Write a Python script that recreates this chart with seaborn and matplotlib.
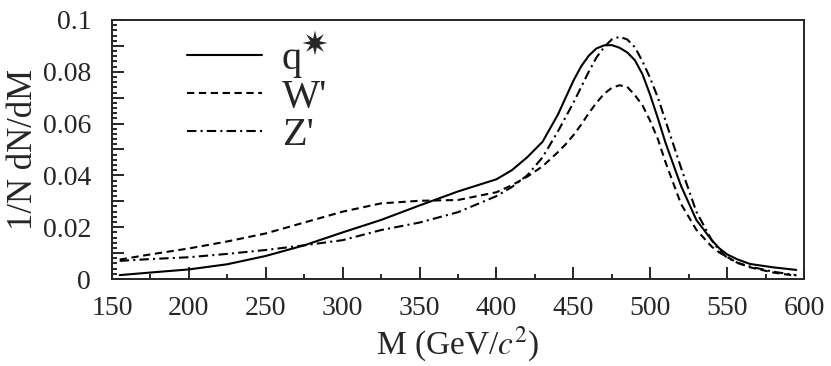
import numpy as np
import pandas as pd
import matplotlib
matplotlib.use("Agg")
import matplotlib.pyplot as plt
import seaborn as sns
from matplotlib.ticker import MultipleLocator, FuncFormatter

# mass grid (GeV/c^2) and the three normalised distributions
mass = [155, 175, 200, 225, 250, 275, 300, 325, 350, 375, 400, 410, 420, 430, 440,
        445, 450, 455, 460, 465, 470, 475, 480, 485, 490, 495, 500, 505, 510, 520,
        530, 540, 545, 550, 557, 565, 580, 595]
q_star = [0.0015, 0.0025, 0.0037, 0.0057, 0.0089, 0.013, 0.018, 0.0228, 0.0284, 0.0338,
          0.0385, 0.042, 0.047, 0.053, 0.0635, 0.070, 0.0765, 0.082, 0.0862, 0.089,
          0.0902, 0.0903, 0.0893, 0.0875, 0.0845, 0.079, 0.071, 0.062, 0.0525, 0.036,
          0.0228, 0.015, 0.0118, 0.0095, 0.0075, 0.0058, 0.0045, 0.0035]
w_prime = [0.0075, 0.0095, 0.0118, 0.0145, 0.0176, 0.0218, 0.026, 0.0292, 0.0302, 0.0305,
           0.0335, 0.0362, 0.0395, 0.0435, 0.049, 0.052, 0.0555, 0.0595, 0.064, 0.068,
           0.0715, 0.0738, 0.0748, 0.0742, 0.071, 0.067, 0.061, 0.054, 0.045, 0.029,
           0.019, 0.0125, 0.0102, 0.0085, 0.0062, 0.0045, 0.0025, 0.0012]
z_prime = [0.007, 0.0077, 0.0084, 0.0097, 0.0112, 0.013, 0.015, 0.0189, 0.0218, 0.0258,
           0.032, 0.0355, 0.040, 0.047, 0.057, 0.0625, 0.068, 0.074, 0.080, 0.0855,
           0.0895, 0.0925, 0.0935, 0.0925, 0.0895, 0.084, 0.0775, 0.070, 0.061, 0.043,
           0.026, 0.015, 0.011, 0.0082, 0.0062, 0.0048, 0.0028, 0.0015]

labels = ["q", "W'", "Z'"]
styles = ["-", (0, (3.5, 2.2)), (0, (4.5, 2, 1, 2))]

sns.set_style("ticks")
plt.rcParams["font.family"] = ["Liberation Serif", "DejaVu Serif"]
plt.rcParams["mathtext.fontset"] = "stix"

fig, ax = plt.subplots(figsize=(8.31, 3.66), dpi=100)
fig.subplots_adjust(left=0.1348, right=0.9675, bottom=0.2377, top=0.9454)

df = pd.DataFrame({"M": mass, "q": q_star, "W": w_prime, "Z": z_prime})
for col, lab, ls in zip(["q", "W", "Z"], labels, styles):
    sns.lineplot(data=df, x="M", y=col, ax=ax, color="black", lw=1.5,
                 linestyle=ls, label=lab)

ax.set_xlim(150, 600)
ax.set_ylim(0, 0.1)
ax.xaxis.set_major_locator(MultipleLocator(50))
ax.xaxis.set_minor_locator(MultipleLocator(25))
ax.yaxis.set_major_locator(MultipleLocator(0.01))
ax.yaxis.set_minor_locator(MultipleLocator(0.002))


def yfmt(v, pos):
    k = int(round(v * 100))
    if k % 2:
        return ""
    return "%g" % (k / 100)


ax.yaxis.set_major_formatter(FuncFormatter(yfmt))
ax.tick_params(which="both", direction="in", top=False, right=False, labelsize=20, width=1.4)
ax.tick_params(which="major", length=8.5)
ax.tick_params(which="minor", length=3.8)
ax.tick_params(axis="x", which="major", pad=12)
ax.tick_params(axis="y", which="major", pad=15)
for s in ax.spines.values():
    s.set_linewidth(1.4)

ax.set_xlabel("M (GeV/$c^2$)", fontsize=24, labelpad=3)
ax.set_ylabel("1/N dN/dM", fontsize=25, labelpad=2)

leg = ax.legend(loc="upper left", bbox_to_anchor=(0.068, 1.03), frameon=False, fontsize=29,
                handlelength=1.85, handletextpad=0.5, labelspacing=0.03, borderpad=0.2)

# the big star of q* sits as a superscript next to the legend text
fig.canvas.draw()
bb = leg.get_texts()[0].get_window_extent()
ax.annotate("\u2737", xy=(bb.x1 + 12, bb.y1 - 4), xycoords="figure pixels",
            fontsize=24, family=["DejaVu Sans"], ha="center", va="center")

fig.savefig("out.png", dpi=100)
